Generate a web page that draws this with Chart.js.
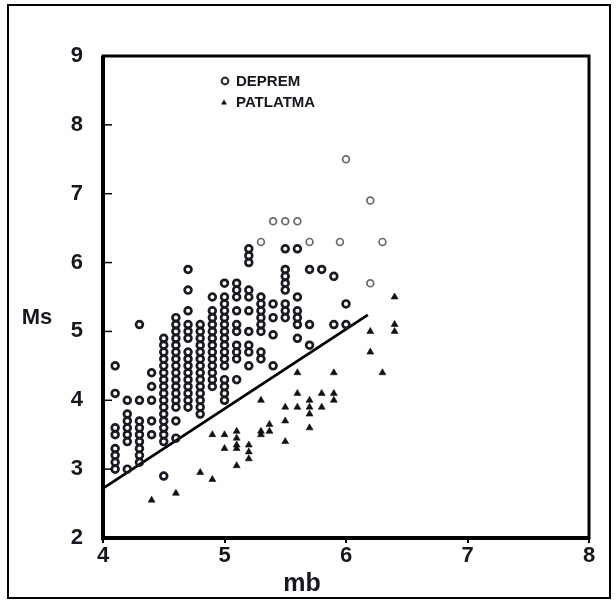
<!DOCTYPE html>
<html>
<head>
<meta charset="utf-8">
<script src="https://cdn.jsdelivr.net/npm/chart.js@4"></script>
<style>
html, body { margin: 0; padding: 0; background: #fff; }
#wrap { position: relative; width: 616px; height: 603px; }
#frame { position: absolute; left: 7px; top: 4px; width: 600px; height: 591px; border: 2px solid #000; pointer-events: none; }
canvas { position: absolute; left: 0; top: 0; }
</style>
</head>
<body>
<div id="wrap">
  <canvas id="msChart" width="616" height="603"></canvas>
  <div id="frame"></div>
</div>
<script>
// mb columns of the earthquake (DEPREM) points and the Ms values stacked in each
const depremMb = [4.1, 4.2, 4.3, 4.4, 4.5, 4.6, 4.7, 4.8, 4.9, 5.0, 5.1, 5.2, 5.3, 5.4, 5.5, 5.6, 5.7, 5.8, 5.9, 6.0];
const depremMs = [
    [4.5, 4.1, 3.6, 3.5, 3.3, 3.2, 3.1, 3.0],
    [4.0, 3.8, 3.7, 3.6, 3.5, 3.4, 3.0],
    [5.1, 4.0, 3.7, 3.6, 3.5, 3.4, 3.3, 3.2, 3.1],
    [4.4, 4.2, 4.0, 3.7, 3.5],
    [4.9, 4.8, 4.7, 4.6, 4.5, 4.4, 4.3, 4.2, 4.1, 4.0, 3.9, 3.8, 3.7, 3.6, 3.5, 3.4, 2.9],
    [5.2, 5.1, 5.0, 4.9, 4.8, 4.7, 4.6, 4.5, 4.4, 4.3, 4.2, 4.1, 4.0, 3.9, 3.7, 3.45],
    [5.9, 5.6, 5.3, 5.1, 5.0, 4.9, 4.7, 4.6, 4.5, 4.4, 4.3, 4.2, 4.1, 4.0, 3.9],
    [5.1, 5.0, 4.9, 4.8, 4.7, 4.6, 4.5, 4.4, 4.3, 4.2, 4.1, 4.0, 3.9, 3.8],
    [5.5, 5.3, 5.2, 5.1, 5.0, 4.9, 4.8, 4.7, 4.6, 4.5, 4.4, 4.3, 4.2],
    [5.7, 5.5, 5.4, 5.3, 5.2, 5.1, 5.0, 4.9, 4.8, 4.7, 4.6, 4.5, 4.3, 4.2, 4.1, 4.0],
    [5.7, 5.6, 5.5, 5.3, 5.1, 5.0, 4.8, 4.7, 4.6, 4.3],
    [6.2, 6.1, 6.0, 5.6, 5.5, 5.3, 5.0, 4.8, 4.7, 4.5],
    [5.5, 5.4, 5.3, 5.2, 5.1, 5.0, 4.7, 4.6],
    [5.4, 5.2, 4.95, 4.5],
    [6.2, 5.9, 5.8, 5.7, 5.6, 5.4, 5.3, 5.2],
    [6.2, 5.5, 5.3, 5.2, 5.1, 4.9],
    [5.9, 5.1, 4.8],
    [5.9],
    [5.8, 5.1],
    [5.4, 5.1]
];
// fainter upper earthquake rings
const depremFaintMb = [5.3, 5.4, 5.5, 5.6, 5.7, 5.95, 6.0, 6.2, 6.3, 6.2];
const depremFaintMs = [6.3, 6.6, 6.6, 6.6, 6.3, 6.3, 7.5, 6.9, 6.3, 5.7];
// explosions (PATLATMA)
const patlatmaMb = [4.4, 4.6, 4.8, 4.9, 4.9, 5.0, 5.0, 5.1, 5.1, 5.1, 5.1, 5.1, 5.2, 5.2, 5.2,
    5.3, 5.3, 5.3, 5.37, 5.37, 5.5, 5.5, 5.5, 5.6, 5.6, 5.6, 5.7, 5.7, 5.7, 5.7,
    5.8, 5.8, 5.9, 5.9, 5.9, 6.2, 6.2, 6.3, 6.4, 6.4, 6.4];
const patlatmaMs = [2.55, 2.65, 2.95, 2.85, 3.5, 3.5, 3.3, 3.55, 3.45, 3.35, 3.3, 3.05, 3.35, 3.25, 3.15,
    4.0, 3.55, 3.5, 3.65, 3.55, 3.9, 3.7, 3.4, 4.4, 4.1, 3.9, 4.0, 3.9, 3.8, 3.6,
    4.1, 3.9, 4.4, 4.1, 4.0, 5.0, 4.7, 4.4, 5.5, 5.1, 5.0];
// separating line
const lineMb = [4.0, 6.18];
const lineMs = [2.72, 5.24];

const xTicks = [4, 5, 6, 7, 8];
const yTicks = [2, 3, 4, 5, 6, 7, 8, 9];

const ink = '#17171f';
const depremPoints = [];
depremMb.forEach((mb, i) => depremMs[i].forEach(ms => depremPoints.push({ x: mb, y: ms })));
const faintPoints = depremFaintMb.map((mb, i) => ({ x: mb, y: depremFaintMs[i] }));
const patlatmaPoints = patlatmaMb.map((mb, i) => ({ x: mb, y: patlatmaMs[i] }));
const linePoints = lineMb.map((mb, i) => ({ x: mb, y: lineMs[i] }));

const decorPlugin = {
    id: 'decor',
    afterDraw(chart) {
        const ctx = chart.ctx;
        const a = chart.chartArea;
        const ys = chart.scales.y;
        ctx.save();
        ctx.strokeStyle = '#000';
        // plot frame
        ctx.lineWidth = 3;
        ctx.strokeRect(a.left, a.top, a.right - a.left, a.bottom - a.top);
        ctx.lineWidth = 4;
        ctx.beginPath();
        ctx.moveTo(a.left, a.top);
        ctx.lineTo(a.left, a.bottom);
        ctx.lineTo(a.right, a.bottom);
        ctx.stroke();
        // inward y ticks
        ctx.lineWidth = 1.5;
        yTicks.slice(1, -1).forEach(v => {
            const py = ys.getPixelForValue(v);
            ctx.beginPath();
            ctx.moveTo(a.left, py);
            ctx.lineTo(a.left + 9, py);
            ctx.stroke();
        });
        // axis titles
        ctx.fillStyle = ink;
        ctx.textBaseline = 'middle';
        ctx.textAlign = 'center';
        ctx.font = 'bold 22px "Liberation Sans Narrow", "Liberation Sans", sans-serif';
        ctx.fillText('Ms', 37, 318);
        ctx.font = 'bold 25px "Liberation Sans Narrow", "Liberation Sans", sans-serif';
        ctx.fillText('mb', 302, 584);
        // legend
        ctx.textAlign = 'left';
        ctx.font = 'bold 15px "Liberation Sans", sans-serif';
        ctx.lineWidth = 2.2;
        ctx.strokeStyle = '#333';
        ctx.beginPath();
        ctx.arc(225, 81, 3.3, 0, Math.PI * 2);
        ctx.stroke();
        ctx.fillText('DEPREM', 236, 82);
        ctx.fillStyle = '#111';
        ctx.beginPath();
        ctx.moveTo(224, 99.5);
        ctx.lineTo(227, 104.5);
        ctx.lineTo(221, 104.5);
        ctx.closePath();
        ctx.fill();
        ctx.fillStyle = ink;
        ctx.fillText('PATLATMA', 236, 103);
        ctx.restore();
    }
};

const tickFont = { family: '"Liberation Sans Narrow", "Liberation Sans", sans-serif', weight: 'bold', size: 22 };

new Chart(document.getElementById('msChart'), {
    type: 'scatter',
    data: {
        datasets: [
            {
                label: 'DEPREM',
                data: depremPoints,
                pointStyle: 'circle',
                pointRadius: 3.4,
                pointBorderWidth: 2.7,
                pointBorderColor: '#1a1a22',
                pointBackgroundColor: 'rgba(255,255,255,0)'
            },
            {
                label: 'DEPREM (faint)',
                data: faintPoints,
                pointStyle: 'circle',
                pointRadius: 3.4,
                pointBorderWidth: 1.7,
                pointBorderColor: '#6a6a6a',
                pointBackgroundColor: 'rgba(255,255,255,0)'
            },
            {
                label: 'PATLATMA',
                data: patlatmaPoints,
                pointStyle: 'triangle',
                pointRadius: 4,
                pointBorderWidth: 0.6,
                pointBorderColor: '#111',
                pointBackgroundColor: '#111'
            },
            {
                type: 'line',
                label: 'line',
                data: linePoints,
                borderColor: '#000',
                borderWidth: 2.8,
                pointRadius: 0,
                fill: false
            }
        ]
    },
    options: {
        responsive: false,
        animation: false,
        layout: { padding: { left: 0, top: 56, right: 27, bottom: 0 } },
        plugins: {
            legend: { display: false },
            tooltip: { enabled: false }
        },
        scales: {
            x: {
                type: 'linear',
                min: 4,
                max: 8,
                afterBuildTicks: s => { s.ticks = xTicks.map(v => ({ value: v })); },
                afterFit: s => { s.height = 65; },
                border: { display: false },
                grid: { drawOnChartArea: false, tickLength: 5, color: '#000', lineWidth: 2 },
                ticks: { color: ink, padding: 0, font: tickFont }
            },
            y: {
                type: 'linear',
                min: 2,
                max: 9,
                afterBuildTicks: s => { s.ticks = yTicks.map(v => ({ value: v })); },
                afterFit: s => { s.width = 103; },
                border: { display: false },
                grid: { drawOnChartArea: false, drawTicks: false },
                ticks: { color: ink, padding: 20, font: tickFont }
            }
        }
    },
    plugins: [decorPlugin]
});
</script>
</body>
</html>
